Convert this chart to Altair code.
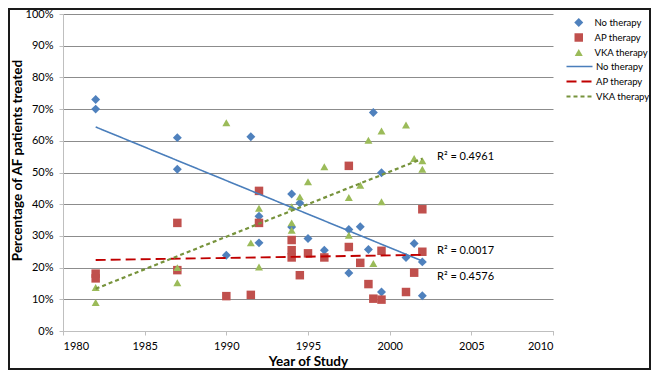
import altair as alt
import pandas as pd

series_names = ["No therapy", "AP therapy", "VKA therapy"]

no_years = [1982, 1982, 1987, 1987, 1990, 1991.5, 1992, 1992, 1994, 1994, 1994.5, 1995,
            1996, 1997.5, 1997.5, 1998.2, 1998.7, 1999, 1999.5, 1999.5, 2001, 2001.5, 2002, 2002]
no_pct = [73, 70, 61, 51, 23.9, 61.3, 36.2, 27.8, 43.2, 32.8, 40.4, 29.2,
          25.5, 32.0, 18.3, 32.9, 25.7, 68.9, 49.9, 12.3, 23.2, 27.6, 21.8, 11.1]

ap_years = [1982, 1982, 1987, 1987, 1990, 1991.5, 1992, 1992, 1994, 1994, 1994, 1994.5, 1995,
            1996, 1997.5, 1997.5, 1998.2, 1998.7, 1999, 1999.5, 1999.5, 2001, 2001.5, 2002, 2002]
ap_pct = [18.1, 16.6, 34.1, 19.2, 11.0, 11.4, 44.2, 34.1, 28.7, 25.5, 23.2, 17.6, 24.5,
          23.2, 52.1, 26.5, 21.5, 14.8, 10.2, 25.3, 9.9, 12.3, 18.4, 38.4, 25.0]

vka_years = [1982, 1982, 1987, 1987, 1990, 1991.5, 1992, 1992, 1994, 1994, 1994, 1994.5, 1995,
             1996, 1997.5, 1997.5, 1998.2, 1998.7, 1999, 1999.5, 1999.5, 2001, 2001.5, 2002, 2002]
vka_pct = [13.7, 9.0, 20.0, 15.2, 65.7, 27.8, 38.7, 20.2, 39.2, 34.1, 31.8, 42.3, 47.1,
           51.8, 42.1, 30.2, 46.0, 60.2, 21.3, 63.1, 40.8, 65.0, 54.4, 53.7, 51.0]

r2_labels = ["R\u00b2 = 0.4961", "R\u00b2 = 0.0017", "R\u00b2 = 0.4576"]
r2_year = [2002.9, 2002.9, 2002.9]
r2_pct = [54.8, 25.2, 17.1]

x_ticks = [1980, 1985, 1990, 1995, 2000, 2005, 2010]
y_ticks = [0, 10, 20, 30, 40, 50, 60, 70, 80, 90, 100]

rows = []
for name, ys, vs in [("No therapy", no_years, no_pct),
                     ("AP therapy", ap_years, ap_pct),
                     ("VKA therapy", vka_years, vka_pct)]:
    for yr, v in zip(ys, vs):
        rows.append({"year": yr, "pct": v, "series": name})
df = pd.DataFrame(rows)
ann = pd.DataFrame({"label": r2_labels, "year": r2_year, "pct": r2_pct})

trend_names = [n + " trend" for n in series_names]

marker_colors = ["#4F81BD", "#C0504D", "#9BBB59"]
marker_sizes = [80, 64, 72]
line_colors = ["#4A7EBB", "#C00000", "#77933C"]
shapes = ["diamond", "square", "triangle-up"]
dashes = [[1, 0], [10, 5], [4, 3]]
widths = [1.6, 2.2, 2.0]

FONT = "Lato"

x_scale = alt.Scale(domain=[1980, 2010], nice=False, zero=False)
y_scale = alt.Scale(domain=[0, 100], nice=False)

x_axis = alt.Axis(values=x_ticks, format="d", grid=False, title="Year of Study",
                  tickSize=4, labelPadding=5, titlePadding=3)
y_axis = alt.Axis(values=y_ticks, labelExpr="datum.value + '%'", grid=True,
                  title="Percentage of AF patients treated", tickSize=4,
                  labelPadding=6, titleX=-46, titleY=146, titleBaseline="middle",
                  titleAngle=270)

pt_legend = alt.Legend(title=None, orient="none", legendX=511, legendY=3,
                       symbolSize=55, labelFontSize=9.5, labelFont=FONT,
                       labelColor="#000000", rowPadding=4, clipHeight=11,
                       labelOffset=11, padding=0, symbolStrokeWidth=0)
ln_legend = alt.Legend(title=None, orient="none", legendX=502, legendY=47,
                       symbolType="stroke", symbolSize=676, symbolStrokeWidth=2,
                       labelFontSize=9.5, labelFont=FONT, labelColor="#000000",
                       rowPadding=4, clipHeight=11, labelOffset=2, padding=0,
                       labelExpr="replace(datum.label, ' trend', '')")

X = alt.X("year:Q", scale=x_scale, axis=x_axis)
Y = alt.Y("pct:Q", scale=y_scale, axis=y_axis)

points = alt.Chart(df).mark_point(filled=True, opacity=1).encode(
    x=X, y=Y,
    color=alt.Color("series:N", scale=alt.Scale(domain=series_names, range=marker_colors),
                    legend=pt_legend),
    shape=alt.Shape("series:N", scale=alt.Scale(domain=series_names, range=shapes),
                    legend=pt_legend),
    size=alt.Size("series:N", scale=alt.Scale(domain=series_names, range=marker_sizes),
                  legend=None),
)

lines = alt.Chart(df).transform_regression(
    "year", "pct", groupby=["series"]
).transform_calculate(trend="datum.series + ' trend'").mark_line().encode(
    x=X, y=Y,
    stroke=alt.Stroke("trend:N", scale=alt.Scale(domain=trend_names, range=line_colors),
                      legend=ln_legend),
    strokeDash=alt.StrokeDash("trend:N", scale=alt.Scale(domain=trend_names, range=dashes),
                              legend=ln_legend),
    strokeWidth=alt.StrokeWidth("trend:N", scale=alt.Scale(domain=trend_names, range=widths),
                                legend=None),
)

texts = alt.Chart(ann).mark_text(align="left", baseline="middle", font=FONT,
                                 fontSize=11, color="#000000").encode(
    x=X, y=Y,
    text="label:N",
)

border = alt.Chart(pd.DataFrame({"a": [0]})).mark_rect(
    fillOpacity=0, stroke="#1a1a1a", strokeWidth=2
).encode(x=alt.value(-54), x2=alt.value(587), y=alt.value(-5), y2=alt.value(355))

chart = alt.layer(points, lines, texts, border).properties(
    width=490, height=317,
    padding={"left": 55, "top": 6, "right": 98, "bottom": 39},
    autosize=alt.AutoSizeParams(type="none"),
    background="#ffffff",
).configure_view(stroke="transparent").configure_axis(
    labelFont=FONT, labelFontSize=11, labelColor="#000000",
    titleFont=FONT, titleFontSize=13.5, titleFontWeight="bold", titleColor="#000000",
    domainColor="#BFBFBF", tickColor="#BFBFBF", gridColor="#8C8C8C", gridWidth=1,
    domainWidth=1,
)

chart.save("out.html", embed_options={"renderer": "svg", "actions": False})
